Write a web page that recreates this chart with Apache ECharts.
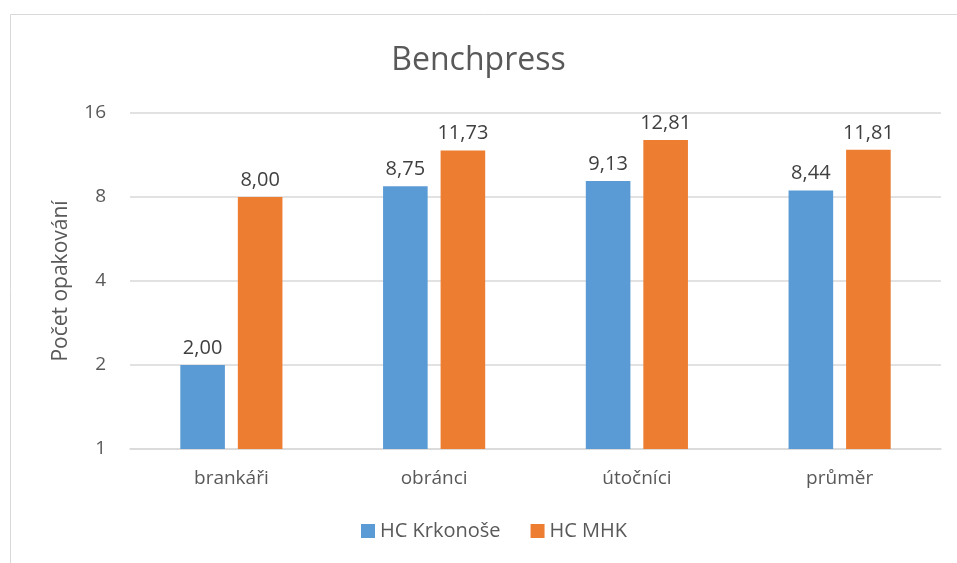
<!DOCTYPE html>
<html><head><meta charset="utf-8">
<script src="https://cdn.jsdelivr.net/npm/echarts@6/dist/echarts.min.js"></script>
<style>html,body{margin:0;padding:0;background:#fff}#c{width:957px;height:563px}</style>
</head><body><div id="c"></div>
<script>
const categories = ['brankáři', 'obránci', 'útočníci', 'průměr'];
const seriesNames = ['HC Krkonoše', 'HC MHK'];
const krkonose = [2.00, 8.75, 9.13, 8.44];
const mhk = [8.00, 11.73, 12.81, 11.81];
const colors = ['#5B9BD5', '#ED7D31'];
const FONT = '"Open Sans", "Noto Sans", sans-serif';

const chart = echarts.init(document.getElementById('c'));
const lbl = {
  show: true, position: 'top', distance: 7,
  color: '#404040', fontSize: 20, fontFamily: FONT,
  formatter: p => p.value.toFixed(2).replace('.', ',')
};
chart.setOption({
  animation: false,
  title: {
    text: 'Benchpress', left: 'center', top: 40,
    textStyle: { color: '#595959', fontSize: 32, fontWeight: 'normal', fontFamily: FONT }
  },
  graphic: [{
    type: 'rect', shape: { x: 10.5, y: 14.5, width: 2000, height: 2000 },
    style: { fill: 'none', stroke: '#d9d9d9', lineWidth: 1 }, silent: true
  }],
  legend: {
    bottom: 17, left: 356, itemWidth: 14, itemHeight: 14, itemGap: 30,
    icon: 'rect',
    textStyle: { color: '#595959', fontSize: 20, fontFamily: FONT },
    data: seriesNames
  },
  grid: { left: 130, right: 16, top: 113, bottom: 114, containLabel: false },
  xAxis: {
    type: 'category', data: categories,
    axisLine: { lineStyle: { color: '#d9d9d9', width: 1.5 } },
    axisTick: { show: false },
    axisLabel: { color: '#595959', fontSize: 19, fontFamily: FONT, margin: 20 }
  },
  yAxis: {
    type: 'log', logBase: 2, min: 1, max: 16,
    name: 'Počet opakování', nameLocation: 'middle', nameGap: 58, nameRotate: 90,
    nameTextStyle: { color: '#595959', fontSize: 21, fontFamily: FONT },
    axisLine: { show: false }, axisTick: { show: false },
    axisLabel: { color: '#595959', fontSize: 19, fontFamily: FONT, margin: 24 },
    splitLine: { lineStyle: { color: '#d9d9d9', width: 1.5 } }
  },
  series: [
    { name: seriesNames[0], type: 'bar', data: krkonose, barWidth: '22%', barGap: '29%',
      itemStyle: { color: colors[0] }, label: lbl },
    { name: seriesNames[1], type: 'bar', data: mhk, barWidth: '22%', barGap: '29%',
      itemStyle: { color: colors[1] }, label: lbl }
  ]
});
</script></body></html>
